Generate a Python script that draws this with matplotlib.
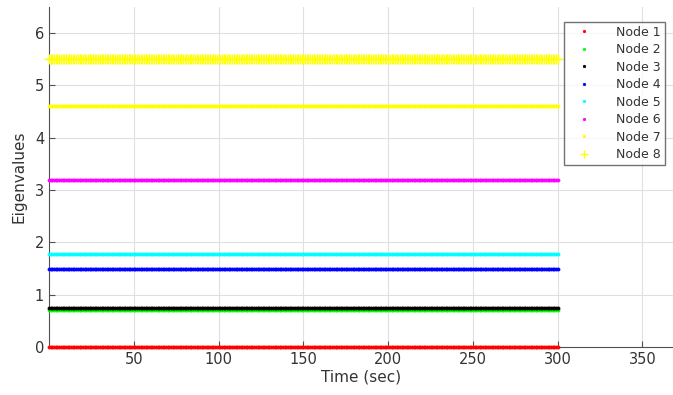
import numpy as np
import matplotlib.pyplot as plt

# eigenvalue of each node (constant over the run)
nodes = ['Node 1', 'Node 2', 'Node 3', 'Node 4', 'Node 5', 'Node 6', 'Node 7', 'Node 8']
eigenvalues = [0.0, 0.71, 0.74, 1.49, 1.78, 3.19, 4.61, 5.50]
colors = ['#ff0000', '#00ff00', '#000000', '#0000ff', '#00ffff', '#ff00ff', '#ffff00', '#ffff00']
markers = ['.', '.', '.', '.', '.', '.', '.', '+']

t = np.arange(0, 301, 1.0)

fig = plt.figure(figsize=(6.73, 3.95), dpi=100)
ax = fig.add_axes([49/673, 48/395, (673-49)/673, (347-7)/395])

for name, ev, c, m in zip(nodes, eigenvalues, colors, markers):
    if m == '+':
        ms, mew = 7, 1.0
    else:
        ms, mew = 4.5, 0.5
    ax.plot(t, np.full_like(t, ev), linestyle='none', marker=m, color=c,
            markersize=ms, markeredgewidth=mew, label=name, clip_on=False, zorder=3)

ax.set_xlim(0, 368)
ax.set_ylim(0, 6.5)
ax.set_xticks([50, 100, 150, 200, 250, 300, 350])
ax.set_yticks([0, 1, 2, 3, 4, 5, 6])
ax.grid(True, color='#e0e0e0', linewidth=0.8)
ax.set_axisbelow(True)
for s in ['top', 'right']:
    ax.spines[s].set_visible(False)
for s in ['left', 'bottom']:
    ax.spines[s].set_color('#505050')
ax.tick_params(direction='in', length=4, colors='#505050', labelsize=10.5,
               labelcolor='#333333')
ax.set_xlabel('Time (sec)', fontsize=11, color='#333333', labelpad=2)
ax.set_ylabel('Eigenvalues', fontsize=11, color='#333333', labelpad=6)

leg = ax.legend(loc='upper right', bbox_to_anchor=(0.987, 0.956), fontsize=9,
                frameon=True, fancybox=False, edgecolor='#505050',
                markerscale=0.8, handletextpad=1.3, borderpad=0.3,
                labelspacing=0.36, handlelength=2.6, borderaxespad=0)
leg.get_frame().set_linewidth(1.0)
for txt in leg.get_texts():
    txt.set_color('#333333')

fig.savefig('out.png', dpi=100)
